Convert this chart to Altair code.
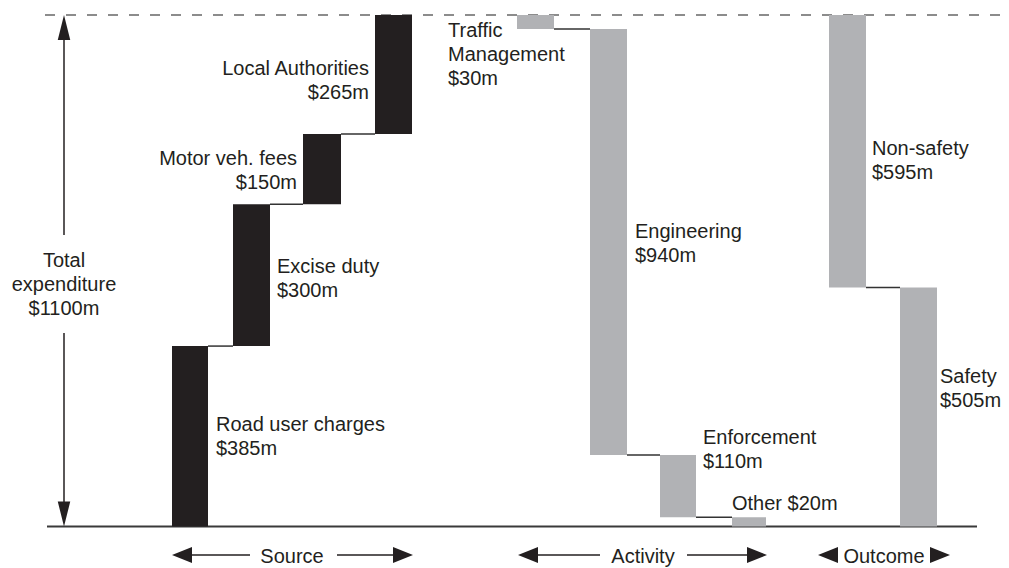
import altair as alt
import pandas as pd

# ---------------- data ----------------
bar_names = ["Road user charges", "Excise duty", "Motor veh. fees", "Local Authorities",
             "Traffic Management", "Engineering", "Enforcement", "Other",
             "Non-safety", "Safety"]
bar_groups = ["Source"] * 4 + ["Activity"] * 4 + ["Outcome"] * 2
bar_start = [0, 388, 693, 844, 1100, 1070, 154, 20, 1100, 514]
bar_end = [388, 693, 844, 1100, 1070, 154, 20, 0, 514, 0]

label_lines = [["Road user charges", "$385m"], ["Excise duty", "$300m"],
               ["Motor veh. fees", "$150m"], ["Local Authorities", "$265m"],
               ["Traffic", "Management", "$30m"], ["Engineering", "$940m"],
               ["Enforcement", "$110m"], ["Other $20m"],
               ["Non-safety", "$595m"], ["Safety", "$505m"]]
total_label = ["Total", "expenditure", "$1100m"]
group_names = ["Source", "Activity", "Outcome"]

# ---------------- layout ----------------
bar_left = [172, 233, 303, 375, 517, 590, 660, 732, 829, 900]
bar_right = [208, 270, 341, 412, 554, 627, 696, 766, 866, 937]
label_x = [216, 277, 297, 369, 448, 635, 703, 732, 872, 940]
label_y = [431, 273, 165, 75, 37, 238, 444, 510, 155, 383]
label_align = ["left", "left", "right", "right", "left", "left", "left", "left", "left", "left"]

W, H = 993, 560
OFF = 8
FONT = "Liberation Sans, Arial, Helvetica, sans-serif"
FS = 20
LH = 24
INK = "#231f20"
BLACK = "#231f20"
GREY = "#b1b2b5"

xs = alt.Scale(domain=[OFF, OFF + W], range=[0, W], nice=False, zero=False)
ys = alt.Scale(domain=[0, 1100], range=[526.5 - OFF, 15 - OFF], nice=False, zero=False)

bars = pd.DataFrame({
    "name": bar_names, "group": bar_groups,
    "start": bar_start, "end": bar_end,
    "x0": bar_left, "x1": bar_right,
    "kind": ["source" if g == "Source" else "use" for g in bar_groups],
})

conn_rows = []
for i in range(len(bar_names) - 1):
    if bar_groups[i] == bar_groups[i + 1]:
        conn_rows.append({"x0": bar_right[i], "x1": bar_left[i + 1], "lvl": bar_end[i]})
conns = pd.DataFrame(conn_rows)

one = pd.DataFrame({"d": [0]})

layers = []

# reference lines
layers.append(alt.Chart(one).mark_rule(color="#8c8c8c", strokeWidth=2, strokeDash=[10, 11]).encode(
    x=alt.value(45 - OFF), x2=alt.value(W), y=alt.value(15 - OFF)))
layers.append(alt.Chart(one).mark_rule(color="#3a3a3a", strokeWidth=2).encode(
    x=alt.value(47 - OFF), x2=alt.value(977 - OFF), y=alt.value(526.5 - OFF)))

# bars
layers.append(alt.Chart(bars).mark_rect().encode(
    x=alt.X("x0:Q", scale=xs, axis=None), x2="x1:Q",
    y=alt.Y("start:Q", scale=ys, axis=None), y2="end:Q",
    color=alt.Color("kind:N", scale=alt.Scale(domain=["source", "use"], range=[BLACK, GREY]), legend=None),
))

# connectors
layers.append(alt.Chart(conns).mark_rule(color="#333333", strokeWidth=1.5).encode(
    x=alt.X("x0:Q", scale=xs, axis=None), x2="x1:Q",
    y=alt.Y("lvl:Q", scale=ys, axis=None),
))

# labels
for lines, lx, ly, al in zip(label_lines, label_x, label_y, label_align):
    layers.append(alt.Chart(one).mark_text(
        text=lines, align=al, baseline="alphabetic", font=FONT, fontSize=FS,
        lineHeight=LH, color=INK).encode(x=alt.value(lx - OFF), y=alt.value(ly - OFF)))

# total expenditure arrow
layers.append(alt.Chart(one).mark_rule(color=INK, strokeWidth=1.5).encode(
    x=alt.value(64 - OFF), y=alt.value(38 - OFF), y2=alt.value(235 - OFF)))
layers.append(alt.Chart(one).mark_rule(color=INK, strokeWidth=1.5).encode(
    x=alt.value(64 - OFF), y=alt.value(333 - OFF), y2=alt.value(505 - OFF)))
up = "M0,-1L0.5,1L-0.5,1Z"
down = "M0,1L0.5,-1L-0.5,-1Z"
layers.append(alt.Chart(one).mark_point(shape=up, filled=True, size=625, color=INK, opacity=1, strokeWidth=0).encode(
    x=alt.value(64 - OFF), y=alt.value(15 + 12.5 - OFF)))
layers.append(alt.Chart(one).mark_point(shape=down, filled=True, size=625, color=INK, opacity=1, strokeWidth=0).encode(
    x=alt.value(64 - OFF), y=alt.value(526.5 - 12.5 - OFF)))
layers.append(alt.Chart(one).mark_text(
    text=total_label, align="center", baseline="alphabetic", font=FONT, fontSize=FS,
    lineHeight=LH, color=INK).encode(x=alt.value(64 - OFF), y=alt.value(267 - OFF)))

# bottom group arrows
left_head = "M-1,0L1,-0.8L1,0.8Z"
right_head = "M1,0L-1,-0.8L-1,0.8Z"
AY = 555
group_center = [292, 643, 884]
group_ltip = [172, 518, 818]
group_lend = [250, 600, None]
group_rstart = [337, 687, None]
group_rtip = [413, 767, 950]
for gname, gc, lt, le, rs, rt in zip(group_names, group_center, group_ltip, group_lend, group_rstart, group_rtip):
    if le is not None:
        layers.append(alt.Chart(one).mark_rule(color=INK, strokeWidth=1.5).encode(
            x=alt.value(lt + 5 - OFF), x2=alt.value(le - OFF), y=alt.value(AY - OFF)))
        layers.append(alt.Chart(one).mark_rule(color=INK, strokeWidth=1.5).encode(
            x=alt.value(rs - OFF), x2=alt.value(rt - 5 - OFF), y=alt.value(AY - OFF)))
    layers.append(alt.Chart(one).mark_point(shape=left_head, filled=True, size=400, color=INK, opacity=1, strokeWidth=0).encode(
        x=alt.value(lt + 10 - OFF), y=alt.value(AY - OFF)))
    layers.append(alt.Chart(one).mark_point(shape=right_head, filled=True, size=400, color=INK, opacity=1, strokeWidth=0).encode(
        x=alt.value(rt - 10 - OFF), y=alt.value(AY - OFF)))
    layers.append(alt.Chart(one).mark_text(
        text=gname, align="center", baseline="alphabetic", font=FONT, fontSize=FS,
        color=INK).encode(x=alt.value(gc - OFF), y=alt.value(563 - OFF)))

chart = alt.layer(*layers).properties(
    width=W, height=H, padding=0, autosize=alt.AutoSizeParams(type="none"),
    background="white",
).configure_view(stroke=None)

chart.save("out.html", embed_options={"renderer": "svg", "actions": False})
